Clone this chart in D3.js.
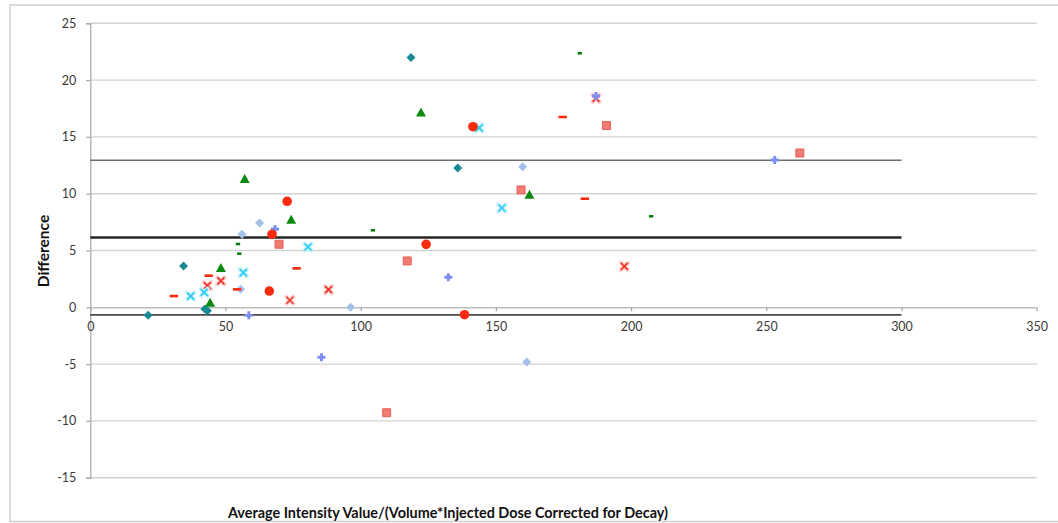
<!DOCTYPE html>
<html>
<head>
<meta charset="utf-8">
<script src="https://cdn.jsdelivr.net/npm/d3@7"></script>
<style>
  html, body { margin: 0; padding: 0; background: #fff; }
  svg { display: block; }
  text { font-family: Lato, "Open Sans", "Liberation Sans", sans-serif; }
</style>
</head>
<body>
<svg id="chart" width="1058" height="523"></svg>
<script>
// Bland–Altman style scatter: difference vs. average normalised intensity.
// Each series is a list of [average, difference] pairs.
const tealDiamonds   = [[118.6, 22.0], [34.5, 3.64], [21.4, -0.71], [42.4, -0.15], [43.3, -0.3], [135.9, 12.26]];
const greenTriangles = [[57.1, 11.3], [74.3, 7.7], [48.3, 3.45], [44.3, 0.4], [122.3, 17.15], [162.4, 9.9]];
const redCircles     = [[72.8, 9.33], [67.2, 6.42], [66.2, 1.43], [141.5, 15.9], [124.2, 5.54], [138.4, -0.65]];
const paleDiamonds   = [[56.1, 6.42], [62.6, 7.42], [55.6, 1.58], [96.3, 0.0], [159.9, 12.38], [161.4, -4.82]];
const bluePluses     = [[68.3, 6.89], [58.6, -0.71], [85.5, -4.4], [132.4, 2.64], [187.0, 18.6], [253.1, 12.97]];
const redSquares     = [[69.8, 5.55], [190.9, 16.0], [159.3, 10.33], [117.2, 4.08], [109.6, -9.28], [262.4, 13.58]];
const redCrosses     = [[43.3, 1.9], [48.3, 2.32], [73.8, 0.62], [88.1, 1.55], [197.5, 3.6], [187.0, 18.4]];
const cyanCrosses    = [[37.1, 0.99], [42.1, 1.32], [56.6, 3.05], [80.5, 5.31], [143.8, 15.8], [152.2, 8.74]];
const redDashes      = [[30.9, 0.99], [43.8, 2.78], [54.3, 1.58], [76.3, 3.43], [174.7, 16.75], [182.9, 9.56]];
const greenDashes    = [[54.6, 5.57], [55.1, 4.72], [104.5, 6.78], [207.4, 8.01], [181.0, 22.36]];

// Mean difference and limits of agreement, drawn across 0–300.
const limitValues = [12.95, 6.14, -0.67];
const limitRange  = [0, 300];

const xTicks = [0, 50, 100, 150, 200, 250, 300, 350];
const yTicks = [-15, -10, -5, 0, 5, 10, 15, 20, 25];

const xTitle = "Average Intensity Value/(Volume*Injected Dose Corrected for Decay)";
const yTitle = "Difference";

const W = 1058, H = 523;
const margin = { left: 90.3, right: 21.3, top: 23.3, bottom: 45.3 };

const svg = d3.select("#chart");
const x = d3.scaleLinear().domain([0, 350]).range([margin.left, W - margin.right]);
const y = d3.scaleLinear().domain([-15, 25]).range([H - margin.bottom, margin.top]);

// plain hyphen for negative tick labels
const tickLabel = d => String(d);

// chart frame
svg.append("rect")
  .attr("x", 10).attr("y", 5).attr("width", 1070).attr("height", 516.5)
  .attr("fill", "none").attr("stroke", "#cfcfcf").attr("stroke-width", 1.5);

// horizontal gridlines
svg.append("g")
  .selectAll("line")
  .data(yTicks.filter(d => d !== 0))
  .join("line")
  .attr("x1", x(0)).attr("x2", x(350))
  .attr("y1", d => y(d)).attr("y2", d => y(d))
  .attr("stroke", "#d3d3d3").attr("stroke-width", 1.4);

// y axis
const yAxis = svg.append("g")
  .attr("transform", `translate(${x(0)},0)`)
  .call(d3.axisLeft(y).tickValues(yTicks).tickSize(4).tickPadding(10).tickFormat(tickLabel));
yAxis.select(".domain").attr("stroke", "#a6a6a6").attr("stroke-width", 1.2);
yAxis.selectAll(".tick line").attr("stroke", "#a6a6a6").attr("stroke-width", 1.2);
yAxis.selectAll(".tick text")
  .attr("fill", "#3a3a3a").style("font-size", "12.5px")
  .style("font-family", "Lato, 'Open Sans', sans-serif");

// x axis crossing at zero
const xAxis = svg.append("g")
  .attr("transform", `translate(0,${y(0)})`)
  .call(d3.axisBottom(x).tickValues(xTicks).tickSizeInner(4).tickSizeOuter(0).tickPadding(11).tickFormat(tickLabel));
xAxis.select(".domain").attr("stroke", "#bdbdbd").attr("stroke-width", 1.4);
xAxis.selectAll(".tick line").attr("stroke", "#a6a6a6").attr("stroke-width", 1.2);
xAxis.selectAll(".tick text")
  .attr("fill", "#3a3a3a").style("font-size", "12.5px")
  .style("font-family", "Lato, 'Open Sans', sans-serif");

// limits of agreement and mean
const limitStyles = [
  { stroke: "#6e6e6e", width: 1.4 },
  { stroke: "#262626", width: 2.4 },
  { stroke: "#4a4a4a", width: 1.6 }
];
svg.append("g")
  .selectAll("line")
  .data(limitValues)
  .join("line")
  .attr("x1", x(limitRange[0])).attr("x2", x(limitRange[1]))
  .attr("y1", d => y(d)).attr("y2", d => y(d))
  .attr("stroke", (d, i) => limitStyles[i].stroke)
  .attr("stroke-width", (d, i) => limitStyles[i].width);

// marker shapes, centred on the origin
function markerPath(shape, r) {
  const p = d3.path();
  switch (shape) {
    case "diamond":
      p.moveTo(0, -r); p.lineTo(r, 0); p.lineTo(0, r); p.lineTo(-r, 0); p.closePath(); break;
    case "triangle":
      p.moveTo(0, -r); p.lineTo(r, r * 0.8); p.lineTo(-r, r * 0.8); p.closePath(); break;
    case "circle":
      p.arc(0, 0, r, 0, 2 * Math.PI); break;
    case "square":
      p.rect(-r, -r, 2 * r, 2 * r); break;
    case "plus": {
      const a = r * 0.36;
      p.moveTo(-a, -r); p.lineTo(a, -r); p.lineTo(a, -a); p.lineTo(r, -a); p.lineTo(r, a);
      p.lineTo(a, a); p.lineTo(a, r); p.lineTo(-a, r); p.lineTo(-a, a); p.lineTo(-r, a);
      p.lineTo(-r, -a); p.lineTo(-a, -a); p.closePath(); break;
    }
    case "cross":
      p.moveTo(-r, -r); p.lineTo(r, r); p.moveTo(r, -r); p.lineTo(-r, r); break;
    case "dash":
      p.rect(-r, -1.3, 2 * r, 2.6); break;
  }
  return p.toString();
}

const series = [
  { data: paleDiamonds,   shape: "diamond",  r: 4.5, fill: "#a3c0ea", stroke: "none" },
  { data: tealDiamonds,   shape: "diamond",  r: 4.5, fill: "#178a93", stroke: "none" },
  { data: redCrosses,     shape: "cross",    r: 3.5, fill: "none", stroke: "#f2322a", halo: "#fbd3cf" },
  { data: bluePluses,     shape: "plus",     r: 4.0, fill: "#7d8df4", stroke: "none" },
  { data: cyanCrosses,    shape: "cross",    r: 3.5, fill: "none", stroke: "#2ccdf2", halo: "#c6f1fb" },
  { data: redSquares,     shape: "square",   r: 4.0, fill: "#ef7b73", stroke: "#e8625c" },
  { data: greenTriangles, shape: "triangle", r: 5.0, fill: "#0b8a12", stroke: "none" },
  { data: redCircles,     shape: "circle",   r: 4.8, fill: "#fb2a0c", stroke: "none" },
  { data: redDashes,      shape: "dash",     r: 4.2, fill: "#fb2a0c", stroke: "none" },
  { data: greenDashes,    shape: "dash",     r: 2.2, fill: "#0a7d0a", stroke: "none" }
];

const marks = svg.append("g");
series.forEach(s => {
  const g = marks.append("g");
  const path = markerPath(s.shape, s.r);
  if (s.halo) {
    g.selectAll("path.halo")
      .data(s.data)
      .join("path")
      .attr("class", "halo")
      .attr("d", path)
      .attr("transform", d => `translate(${x(d[0])},${y(d[1])})`)
      .attr("fill", "none").attr("stroke", s.halo).attr("stroke-width", 4.4)
      .attr("stroke-linecap", "round");
  }
  g.selectAll("path.mark")
    .data(s.data)
    .join("path")
    .attr("class", "mark")
    .attr("d", path)
    .attr("transform", d => `translate(${x(d[0])},${y(d[1])})`)
    .attr("fill", s.fill)
    .attr("stroke", s.stroke)
    .attr("stroke-width", s.shape === "cross" ? 1.7 : 1);
});

// axis titles
svg.append("text")
  .attr("x", 448).attr("y", 518)
  .attr("text-anchor", "middle")
  .attr("fill", "#111")
  .style("font-size", "14.4px").style("font-weight", "bold")
  .text(xTitle);

svg.append("text")
  .attr("transform", "translate(49,251) rotate(-90)")
  .attr("text-anchor", "middle")
  .attr("fill", "#111")
  .style("font-size", "15.5px").style("font-weight", "bold")
  .text(yTitle);
</script>
</body>
</html>
